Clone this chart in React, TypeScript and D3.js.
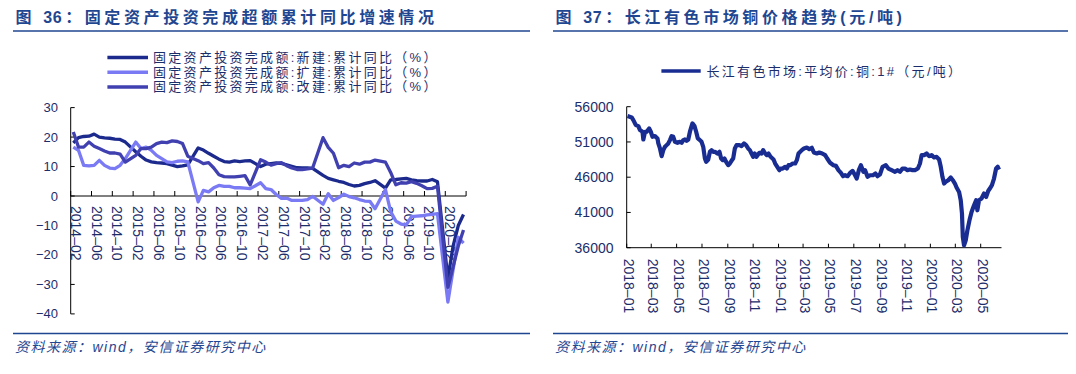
import { useEffect, useRef } from "react";
import * as d3 from "d3";

const W = 1076;
const H = 374;

// colors
const C_TITLE = "#1f4690";
const C_TEXT = "#1c2d6b";
const C_NEW = "#1b2a8c";
const C_EXPAND = "#7a7af5";
const C_REBUILD = "#4040b0";
const C_COPPER = "#182c91";

const FONT = "'Liberation Sans', Arial, 'Noto Sans CJK SC', sans-serif";

// ---------- chart 36: FAI new / expansion / rebuild, cumulative yoy ----------
const FAI_MONTHS = d3.timeMonth.range(new Date(2014, 1, 1), new Date(2020, 5, 1)); // 2014-02 .. 2020-05
const FAI_TICK_LABELS = [
  "2014-02", "2014-06", "2014-10", "2015-02", "2015-06", "2015-10", "2016-02",
  "2016-06", "2016-10", "2017-02", "2017-06", "2017-10", "2018-02", "2018-06",
  "2018-10", "2019-02", "2019-06", "2019-10", "2020-02",
];
const FAI_Y_TICKS = [30, 20, 10, 0, -10, -20, -30, -40];
const FAI_NAMES = [
  "固定资产投资完成额:新建:累计同比（%）",
  "固定资产投资完成额:扩建:累计同比（%）",
  "固定资产投资完成额:改建:累计同比（%）",
];
// January has no release (null)
const FAI_NEW = [
  18.0, 19.8, 20.2, 20.3, 21.0, 20.0, 19.7, 19.6, 19.3, 19.2, 18.3, null,
  15.0, 13.5, 12.2, 11.6, 11.3, 11.2, 11.0, 10.5, 10.0, 10.2, 10.6, null,
  16.3, 15.6, 14.5, 13.5, 12.5, 11.7, 11.5, 11.9, 11.7, 11.9, 12.0, null,
  10.0, 10.8, 11.0, 11.2, 11.1, 10.6, 10.1, 9.6, 9.5, 9.5, 9.4, null,
  7.0, 6.0, 5.5, 5.0, 4.6, 3.9, 3.4, 3.6, 4.2, 4.6, 5.2, null,
  2.7, 5.5, 5.6, 5.8, 6.0, 5.5, 5.2, 5.1, 5.1, 5.6, 4.8, null,
  -28.0, -17.0, -10.0, -6.3,
];
const FAI_EXPAND = [
  16.6, 15.5, 10.4, 10.2, 10.4, 12.1, 10.4, 9.5, 9.3, 10.4, 12.7, null,
  18.3, 16.1, 16.6, 15.5, 13.8, 12.7, 11.6, 11.3, 11.8, 11.9, 11.6, null,
  -2.0, 1.9, 1.4, 2.8, 3.6, 3.3, 3.3, 2.8, 2.8, 2.7, 2.5, null,
  4.5, 2.5, 2.2, 0.5, -0.8, -0.7, -1.5, -1.5, -1.5, -1.2, -0.1, null,
  -2.8, 0.8, -1.5, -0.5, 0.6, -0.2, -0.6, -1.2, -1.7, -1.8, -4.3, null,
  2.2, -5.3, -8.5, -9.5, -9.8, -7.0, -6.8, -6.7, -6.4, -6.2, -6.0, null,
  -36.0, -25.0, -14.0, -16.0,
];
const FAI_REBUILD = [
  21.7, 16.6, 16.6, 18.3, 16.9, 16.1, 15.3, 14.6, 14.6, 14.2, 11.5, null,
  13.8, 16.1, 16.1, 16.6, 17.8, 18.3, 18.1, 18.7, 18.5, 17.8, 13.5, null,
  12.0, 11.0, 11.3, 9.5, 7.2, 6.6, 6.5, 6.5, 6.7, 6.9, 3.8, null,
  12.3, 11.5, 10.5, 11.0, 11.3, 10.3, 9.5, 9.0, 9.0, 9.2, 9.5, null,
  19.8, 16.5, 14.5, 9.6, 10.4, 10.0, 11.2, 10.8, 11.5, 11.5, 12.2, null,
  11.5, 8.0, 3.8, 4.5, 4.4, 4.9, 4.3, 3.5, 2.5, 2.6, 3.3, null,
  -31.0, -24.0, -17.0, -11.5,
];

// ---------- chart 37: Changjiang copper spot price ----------
const CU_NAME = "长江有色市场:平均价:铜:1#（元/吨）";
const CU_Y_TICKS = [56000, 51000, 46000, 41000, 36000];
const CU_TICK_LABELS = [
  "2018-01", "2018-03", "2018-05", "2018-07", "2018-09", "2018-11", "2019-01",
  "2019-03", "2019-05", "2019-07", "2019-09", "2019-11", "2020-01", "2020-03", "2020-05",
];
const CU_DATES = [
  "2018-01-03", "2018-01-13", "2018-01-17", "2018-01-23", "2018-01-29", "2018-02-02", "2018-02-08", "2018-02-10", "2018-02-14", "2018-02-18",
  "2018-02-24", "2018-02-28", "2018-03-04", "2018-03-10", "2018-03-16", "2018-03-18", "2018-03-22", "2018-03-26", "2018-03-30", "2018-04-03",
  "2018-04-07", "2018-04-11", "2018-04-15", "2018-04-19", "2018-04-23", "2018-04-27", "2018-05-03", "2018-05-09", "2018-05-13", "2018-05-17",
  "2018-05-21", "2018-05-25", "2018-05-29", "2018-06-02", "2018-06-08", "2018-06-13", "2018-06-17", "2018-06-21", "2018-06-26", "2018-06-30",
  "2018-07-04", "2018-07-08", "2018-07-11", "2018-07-16", "2018-07-20", "2018-07-24", "2018-07-28", "2018-08-01", "2018-08-07", "2018-08-12",
  "2018-08-16", "2018-08-20", "2018-08-24", "2018-08-28", "2018-09-02", "2018-09-06", "2018-09-11", "2018-09-14", "2018-09-18", "2018-09-22",
  "2018-09-29", "2018-10-04", "2018-10-10", "2018-10-15", "2018-10-20", "2018-10-24", "2018-10-28", "2018-11-01", "2018-11-05", "2018-11-09",
  "2018-11-16", "2018-11-21", "2018-11-25", "2018-11-30", "2018-12-04", "2018-12-08", "2018-12-13", "2018-12-20", "2018-12-24", "2018-12-29",
  "2019-01-03", "2019-01-06", "2019-01-11", "2019-01-17", "2019-01-21", "2019-01-25", "2019-01-29", "2019-02-04", "2019-02-10", "2019-02-14",
  "2019-02-18",
  "2019-02-26", "2019-03-03", "2019-03-10", "2019-03-16", "2019-03-22", "2019-03-27", "2019-04-03", "2019-04-09", "2019-04-16", "2019-04-23",
  "2019-04-28", "2019-05-05", "2019-05-13", "2019-05-19", "2019-05-25", "2019-05-31", "2019-06-05", "2019-06-10", "2019-06-16", "2019-06-22",
  "2019-06-28", "2019-07-04", "2019-07-08", "2019-07-13", "2019-07-18", "2019-07-24", "2019-07-28", "2019-08-03", "2019-08-09", "2019-08-16",
  "2019-08-22", "2019-08-27", "2019-09-02", "2019-09-08", "2019-09-16", "2019-09-22", "2019-09-30", "2019-10-08", "2019-10-14", "2019-10-20",
  "2019-10-26", "2019-11-01", "2019-11-07", "2019-11-13", "2019-11-19", "2019-11-25", "2019-12-02", "2019-12-07", "2019-12-11", "2019-12-17",
  "2019-12-23", "2019-12-29", "2020-01-04", "2020-01-10", "2020-01-16", "2020-01-22", "2020-01-26", "2020-01-30", "2020-02-03", "2020-02-07",
  "2020-02-13", "2020-02-19", "2020-02-24", "2020-02-29", "2020-03-04", "2020-03-10", "2020-03-14", "2020-03-17", "2020-03-19", "2020-03-22",
  "2020-03-26", "2020-03-30", "2020-04-04", "2020-04-09", "2020-04-15", "2020-04-20", "2020-04-23", "2020-04-27", "2020-05-03", "2020-05-09",
  "2020-05-14", "2020-05-19", "2020-05-23", "2020-05-28", "2020-06-02", "2020-06-07", "2020-06-11", "2020-06-14",
];
const CU_PRICES = [
  54670, 54480, 54100, 53390, 53250, 52680, 52450, 51350, 52450, 52450,
  52920, 52450, 51730, 51830, 51500, 50790, 50080, 48990, 49840, 50310,
  50550, 50790, 51260, 51830, 51730, 51020, 50880, 51020, 50880, 51260,
  51350, 51170, 51350, 52450, 53630, 53250, 52450, 51500, 51260, 51020,
  50310, 48650, 48180, 48510, 49600, 49840, 49600, 49600, 49360, 49600,
  48650, 48420, 48650, 48180, 47710, 47940, 48420, 48650, 50080, 50550,
  50550, 50410, 50790, 50550, 50080, 49840, 49360, 48890, 49360, 48890,
  49460, 49360, 49840, 49360, 49130, 49360, 48890, 48510, 47940, 47470,
  46990, 47230, 47230, 47470, 47230, 47710, 47710, 47940, 47940, 48420,
  49360,
  49840, 50070, 50200, 49980, 50170, 49500, 49360, 49500, 49360, 49130,
  48650, 48040, 47700, 47610, 47000, 46610, 46140, 46280, 46140, 46610,
  46900, 46280, 45800, 47000, 47700, 46760, 47000, 46050, 46280, 46280,
  46520, 46140, 46420, 47470, 47700, 47230, 47000, 46760, 47000, 46760,
  47230, 47230, 47000, 47090, 47000, 47000, 47230, 47940, 49130, 49130,
  49360, 48980, 49130, 48800, 48890, 48510, 47470, 46050, 45100, 45340,
  45570, 45950, 45570, 45100, 44530, 43910, 42730, 40830, 37510, 36330,
  37040, 38460, 39880, 41070, 42020, 42730, 41310, 42730, 42970, 43680,
  43200, 44050, 44390, 44860, 45810, 47230, 47470, 47090,
];

const SOURCE = "资料来源：wind，安信证券研究中心";

const fmtMinus = (v: number) => (v < 0 ? "\u2212" + Math.abs(v) : String(v));
const dashLabel = (s: string) => s.replace("-", "\u2013");

export default function App() {
  const svgRef = useRef<SVGSVGElement>(null);

  useEffect(() => {
    document.body.style.margin = "0";
    const svg = d3.select(svgRef.current);
    svg.selectAll("*").remove();
    svg.attr("font-family", FONT);

    // panel headers + footers
    const panel = (x0: number, x1: number, num: string, title: string) => {
      const t = svg.append("text")
        .attr("x", x0 + 2.5)
        .attr("y", 23)
        .attr("font-size", "16px")
        .attr("font-weight", "bold")
        .attr("letter-spacing", "3.6px")
        .attr("fill", C_TITLE);
      t.append("tspan").text("图 ");
      t.append("tspan").attr("letter-spacing", "0.6px").text(num);
      t.append("tspan").attr("dx", 3).text("：" + title);
      [31, 333.5].forEach((y) => {
        svg.append("line")
          .attr("x1", x0).attr("x2", x1)
          .attr("y1", y).attr("y2", y)
          .attr("stroke", C_TITLE)
          .attr("stroke-width", 1.5);
      });
      svg.append("text")
        .attr("x", x0 + 2)
        .attr("y", 347)
        .attr("dominant-baseline", "central")
        .attr("font-size", "14px")
        .attr("font-style", "italic")
        .attr("letter-spacing", "1.5px")
        .attr("fill", C_TITLE)
        .text(SOURCE);
    };
    panel(13, 530, "36", "固定资产投资完成超额累计同比增速情况");
    panel(553, 1068, "37", "长江有色市场铜价格趋势(元/吨)");

    // ---------- left chart ----------
    const xL = d3.scaleBand<number>()
      .domain(d3.range(FAI_MONTHS.length))
      .range([70.7, 466.1]);
    const yL = d3.scaleLinear().domain([-40, 30]).range([313.9, 107.6]);
    const cxL = (i: number) => (xL(i) ?? 0) + xL.bandwidth() / 2;
    const axisX = xL.range()[0];

    const gL = svg.append("g");

    // y axis
    gL.append("line")
      .attr("x1", axisX).attr("x2", axisX)
      .attr("y1", yL(30)).attr("y2", yL(-40))
      .attr("stroke", "#000");
    FAI_Y_TICKS.forEach((t) => {
      gL.append("line")
        .attr("x1", axisX).attr("x2", axisX + 4)
        .attr("y1", yL(t)).attr("y2", yL(t))
        .attr("stroke", "#000");
      gL.append("text")
        .attr("x", 58)
        .attr("y", yL(t))
        .attr("text-anchor", "end")
        .attr("dominant-baseline", "central")
        .attr("font-size", "13px")
        .attr("fill", C_TEXT)
        .text(fmtMinus(t));
    });

    // x axis at zero
    gL.append("line")
      .attr("x1", axisX).attr("x2", xL.range()[1])
      .attr("y1", yL(0)).attr("y2", yL(0))
      .attr("stroke", "#000");
    for (let i = 0; i <= FAI_MONTHS.length; i += 4) {
      const x = i < FAI_MONTHS.length ? (xL(i) ?? 0) : xL.range()[1];
      gL.append("line")
        .attr("x1", x).attr("x2", x)
        .attr("y1", yL(0)).attr("y2", yL(0) - 5)
        .attr("stroke", "#000");
    }
    const fmtMonth = d3.timeFormat("%Y-%m");
    FAI_TICK_LABELS.forEach((lab) => {
      const i = FAI_MONTHS.findIndex((m) => fmtMonth(m) === lab);
      if (i < 0) return;
      gL.append("text")
        .attr("transform", `translate(${(xL(i) ?? 0) + 5},${yL(0) + 10}) rotate(90)`)
        .attr("dominant-baseline", "central")
        .attr("font-size", "14px")
        .attr("fill", C_TEXT)
        .text(dashLabel(lab));
    });

    // series
    const line = d3.line<{ i: number; v: number }>()
      .x((d) => cxL(d.i))
      .y((d) => yL(d.v));
    const series = [
      { values: FAI_NEW, color: C_NEW },
      { values: FAI_EXPAND, color: C_EXPAND },
      { values: FAI_REBUILD, color: C_REBUILD },
    ];
    series.forEach((s) => {
      const pts = s.values
        .map((v, i) => ({ i, v: v as number }))
        .filter((d) => d.v !== null);
      gL.append("path")
        .attr("d", line(pts))
        .attr("fill", "none")
        .attr("stroke", s.color)
        .attr("stroke-width", 3.3)
        .attr("stroke-linejoin", "round");
    });

    // legend
    series.forEach((s, k) => {
      const y = 57.5 + k * 14.7;
      gL.append("line")
        .attr("x1", 107.4).attr("x2", 148)
        .attr("y1", y).attr("y2", y)
        .attr("stroke", s.color)
        .attr("stroke-width", 3.5);
      gL.append("text")
        .attr("x", 153)
        .attr("y", y)
        .attr("dominant-baseline", "central")
        .attr("font-size", "13px")
        .attr("letter-spacing", "2.3px")
        .attr("fill", C_TEXT)
        .text(FAI_NAMES[k]);
    });

    // ---------- right chart ----------
    const parse = d3.timeParse("%Y-%m-%d");
    const xR = d3.scaleTime()
      .domain([new Date(2018, 0, 1), new Date(2020, 5, 20)])
      .range([626.7, 1001.5]);
    const yR = d3.scaleLinear().domain([36000, 56000]).range([247.7, 106.7]);
    const gR = svg.append("g");

    gR.append("line")
      .attr("x1", xR.range()[0]).attr("x2", xR.range()[0])
      .attr("y1", yR(56000)).attr("y2", yR(36000))
      .attr("stroke", "#000");
    gR.append("line")
      .attr("x1", xR.range()[0]).attr("x2", xR.range()[1])
      .attr("y1", yR(36000)).attr("y2", yR(36000))
      .attr("stroke", "#000");
    CU_Y_TICKS.forEach((t) => {
      gR.append("line")
        .attr("x1", xR.range()[0]).attr("x2", xR.range()[0] + 4)
        .attr("y1", yR(t)).attr("y2", yR(t))
        .attr("stroke", "#000");
      gR.append("text")
        .attr("x", 613.5)
        .attr("y", yR(t))
        .attr("text-anchor", "end")
        .attr("dominant-baseline", "central")
        .attr("font-size", "14px")
        .attr("fill", C_TEXT)
        .text(t);
    });
    const parseMonth = d3.timeParse("%Y-%m");
    CU_TICK_LABELS.forEach((lab) => {
      const x = xR(parseMonth(lab) as Date);
      gR.append("line")
        .attr("x1", x).attr("x2", x)
        .attr("y1", yR(36000)).attr("y2", yR(36000) - 4)
        .attr("stroke", "#000");
      gR.append("text")
        .attr("transform", `translate(${x + 2},${yR(36000) + 11}) rotate(90)`)
        .attr("dominant-baseline", "central")
        .attr("font-size", "14px")
        .attr("fill", C_TEXT)
        .text(dashLabel(lab));
    });

    const cuLine = d3.line<number>()
      .x((_, i) => xR(parse(CU_DATES[i]) as Date))
      .y((v) => yR(v));
    gR.append("path")
      .attr("d", cuLine(CU_PRICES))
      .attr("fill", "none")
      .attr("stroke", C_COPPER)
      .attr("stroke-width", 4.2)
      .attr("stroke-linejoin", "round");

    gR.append("line")
      .attr("x1", 661.4).attr("x2", 700.7)
      .attr("y1", 71).attr("y2", 71)
      .attr("stroke", C_COPPER)
      .attr("stroke-width", 3.5);
    gR.append("text")
      .attr("x", 706.5)
      .attr("y", 71)
      .attr("dominant-baseline", "central")
      .attr("font-size", "13px")
      .attr("letter-spacing", "2.3px")
      .attr("fill", C_TEXT)
      .text(CU_NAME);
  }, []);

  return (
    <svg
      ref={svgRef}
      width={W}
      height={H}
      style={{ display: "block", background: "#fff" }}
    />
  );
}
